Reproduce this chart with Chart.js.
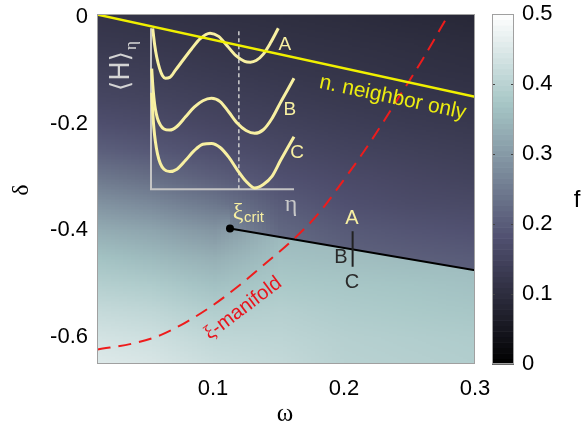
<!DOCTYPE html>
<html>
<head>
<meta charset="utf-8">
<script src="https://cdn.jsdelivr.net/npm/chart.js@4.4.1/dist/chart.umd.min.js"></script>
<style>
    html, body { margin: 0; padding: 0; background: #fff; }
    #grafico { display: block; }
</style>
</head>
<body>
<canvas id="grafico" width="583" height="433"></canvas>
<script>
// Ejes principales
const omegaTicks = [0.1, 0.2, 0.3];
const deltaTicks = [0, -0.2, -0.4, -0.6];
const fTicks = [0, 0.1, 0.2, 0.3, 0.4, 0.5];

// Malla del campo f(omega, delta)
const gridOmega = [0, 0.05, 0.1, 0.15, 0.2, 0.25, 0.3];
const gridDelta = [0, -0.05, -0.1, -0.15, -0.2, -0.25, -0.3, -0.35, -0.4, -0.45, -0.5, -0.55, -0.6, -0.65];
// campo por encima de la linea negra
const fUpper = [
    [0.120, 0.115, 0.110, 0.105, 0.100, 0.095, 0.090],
    [0.130, 0.125, 0.120, 0.115, 0.110, 0.105, 0.100],
    [0.145, 0.138, 0.130, 0.124, 0.118, 0.113, 0.108],
    [0.160, 0.152, 0.143, 0.135, 0.128, 0.122, 0.117],
    [0.180, 0.170, 0.158, 0.148, 0.140, 0.133, 0.127],
    [0.210, 0.195, 0.178, 0.163, 0.153, 0.145, 0.138],
    [0.250, 0.230, 0.205, 0.180, 0.167, 0.158, 0.150],
    [0.295, 0.275, 0.245, 0.200, 0.180, 0.170, 0.165],
    [0.335, 0.320, 0.295, 0.220, 0.198, 0.188, 0.182],
    [0.370, 0.355, 0.335, 0.235, 0.212, 0.205, 0.200],
    [0.395, 0.385, 0.365, 0.250, 0.225, 0.215, 0.210],
    [0.420, 0.410, 0.390, 0.260, 0.240, 0.228, 0.220],
    [0.440, 0.430, 0.410, 0.270, 0.250, 0.240, 0.230],
    [0.455, 0.445, 0.425, 0.280, 0.260, 0.250, 0.240]
];
// campo por debajo de la linea negra
const fLower = [
    [0.120, 0.115, 0.110, 0.105, 0.100, 0.095, 0.090],
    [0.130, 0.125, 0.120, 0.115, 0.110, 0.105, 0.100],
    [0.145, 0.138, 0.130, 0.124, 0.118, 0.113, 0.108],
    [0.160, 0.152, 0.143, 0.135, 0.128, 0.122, 0.117],
    [0.180, 0.170, 0.158, 0.148, 0.140, 0.133, 0.127],
    [0.210, 0.195, 0.178, 0.163, 0.153, 0.145, 0.138],
    [0.250, 0.230, 0.205, 0.180, 0.167, 0.158, 0.150],
    [0.295, 0.275, 0.245, 0.200, 0.180, 0.170, 0.165],
    [0.335, 0.320, 0.295, 0.350, 0.350, 0.350, 0.350],
    [0.370, 0.355, 0.335, 0.365, 0.360, 0.355, 0.355],
    [0.395, 0.385, 0.365, 0.380, 0.375, 0.370, 0.365],
    [0.420, 0.410, 0.390, 0.395, 0.385, 0.380, 0.375],
    [0.440, 0.430, 0.410, 0.405, 0.395, 0.390, 0.385],
    [0.455, 0.445, 0.425, 0.415, 0.400, 0.395, 0.390]
];

// Lineas
const nnOmega = [0.0115, 0.3];
const nnDelta = [0.004, -0.15];
const xiOmega = [0.012, 0.04, 0.06, 0.08, 0.10, 0.12, 0.14, 0.16, 0.18, 0.20, 0.22, 0.24, 0.26, 0.28];
const xiDelta = [-0.623, -0.611, -0.596, -0.571, -0.540, -0.503, -0.462, -0.420, -0.370, -0.305, -0.235, -0.158, -0.080, 0.005];
const critOmega = [0.113, 0.3];
const critDelta = [-0.3966, -0.4746];
const abcOmega = [0.2066, 0.2066];
const abcDelta = [-0.4015, -0.468];

// Recuadro: curvas <H>_eta
const etaA = [0.012, 0.025, 0.04, 0.06, 0.08, 0.1, 0.13, 0.17, 0.22, 0.28, 0.34, 0.41, 0.47, 0.53, 0.59, 0.65, 0.69, 0.73, 0.78, 0.83, 0.884];
const hA = [1.0, 0.9, 0.82, 0.75, 0.705, 0.69, 0.695, 0.74, 0.8, 0.87, 0.935, 0.97, 0.95, 0.89, 0.83, 0.795, 0.79, 0.8, 0.84, 0.91, 1.0];
const etaBC = [0.005, 0.012, 0.02, 0.03, 0.045, 0.065, 0.09, 0.13, 0.18, 0.24, 0.3, 0.36, 0.42, 0.48, 0.54, 0.6, 0.66, 0.72, 0.78, 0.84, 0.9, 0.95, 0.993];
const hB = [0.75, 0.65, 0.57, 0.5, 0.44, 0.4, 0.375, 0.368, 0.39, 0.45, 0.51, 0.55, 0.565, 0.545, 0.48, 0.41, 0.365, 0.348, 0.37, 0.44, 0.54, 0.62, 0.69];
const hC = [0.6, 0.48, 0.38, 0.3, 0.22, 0.16, 0.125, 0.11, 0.125, 0.18, 0.24, 0.28, 0.285, 0.26, 0.2, 0.12, 0.05, 0.008, 0.03, 0.08, 0.18, 0.26, 0.327];
const insetAxisEta = [0, 0, 0.993];
const insetAxisH = [1.0, 0, 0];
const etaCrit = [0.61, 0.61];
const hCrit = [0, 1.0];

const SANS = '"Liberation Sans", Arial, sans-serif';
const SERIF = '"Liberation Serif", "DejaVu Serif", serif';
const CREMA = '#f8f0a2';

function pts(xs, ys) {
    return xs.map((x, i) => ({ x: x, y: ys[i] }));
}

// mapa de color "bone"
const boneR = [[0, 0], [0.746, 0.653], [1, 1]];
const boneG = [[0, 0], [0.365, 0.319], [0.746, 0.778], [1, 1]];
const boneB = [[0, 0], [0.365, 0.444], [1, 1]];

function tramo(tabla, t) {
    for (let i = 1; i < tabla.length; i++) {
        if (t <= tabla[i][0]) {
            const a = tabla[i - 1], b = tabla[i];
            return a[1] + (b[1] - a[1]) * (t - a[0]) / (b[0] - a[0]);
        }
    }
    return tabla[tabla.length - 1][1];
}

function bone(t) {
    t = Math.max(0, Math.min(1, t));
    return [tramo(boneR, t), tramo(boneG, t), tramo(boneB, t)].map(v => Math.round(v * 255));
}

function pintarCampo(ctx, chart, valores) {
    const xs = chart.scales.x, ys = chart.scales.y;
    const nc = gridOmega.length, nr = gridDelta.length;
    const off = document.createElement('canvas');
    off.width = nc;
    off.height = nr;
    const octx = off.getContext('2d');
    const img = octx.createImageData(nc, nr);
    for (let r = 0; r < nr; r++) {
        for (let c = 0; c < nc; c++) {
            const col = bone(valores[r][c] / 0.5);
            const k = (r * nc + c) * 4;
            img.data[k] = col[0];
            img.data[k + 1] = col[1];
            img.data[k + 2] = col[2];
            img.data[k + 3] = 255;
        }
    }
    octx.putImageData(img, 0, 0);
    const x0 = xs.getPixelForValue(gridOmega[0]);
    const x1 = xs.getPixelForValue(gridOmega[nc - 1]);
    const y0 = ys.getPixelForValue(gridDelta[0]);
    const y1 = ys.getPixelForValue(gridDelta[nr - 1]);
    const dx = (x1 - x0) / (nc - 1), dy = (y1 - y0) / (nr - 1);
    ctx.imageSmoothingEnabled = true;
    ctx.drawImage(off, x0 - dx / 2, y0 - dy / 2, dx * nc, dy * nr);
}

const pluginCampo = {
    id: 'campo',
    beforeDatasetsDraw(chart) {
        const ctx = chart.ctx;
        const area = chart.chartArea;
        const xs = chart.scales.x, ys = chart.scales.y;
        ctx.save();
        ctx.beginPath();
        ctx.rect(area.left, area.top, area.right - area.left, area.bottom - area.top);
        ctx.clip();
        pintarCampo(ctx, chart, fLower);
        // zona superior, limitada por la linea negra
        ctx.beginPath();
        const xa = xs.getPixelForValue(critOmega[0]);
        ctx.moveTo(xa, ys.getPixelForValue(critDelta[0]));
        ctx.lineTo(xs.getPixelForValue(critOmega[1]), ys.getPixelForValue(critDelta[1]));
        ctx.lineTo(area.right + 5, ys.getPixelForValue(critDelta[1]));
        ctx.lineTo(area.right + 5, area.top - 5);
        ctx.lineTo(xa, area.top - 5);
        ctx.closePath();
        ctx.clip();
        pintarCampo(ctx, chart, fUpper);
        ctx.restore();
    },
    afterDatasetsDraw(chart) {
        const ctx = chart.ctx;
        const area = chart.chartArea;
        const fs = chart.scales.f;
        ctx.save();
        // marco
        ctx.strokeStyle = '#a0a0a0';
        ctx.lineWidth = 1;
        ctx.strokeRect(area.left + 0.5, area.top + 0.5, area.right - area.left - 1, area.bottom - area.top - 1);

        // barra de color
        const bx = area.right + 17, bw = 22;
        const n = 64;
        for (let i = 0; i < n; i++) {
            const v0 = 0.5 * i / n, v1 = 0.5 * (i + 1) / n;
            const c = bone((i + 0.5) / n);
            ctx.fillStyle = `rgb(${c[0]},${c[1]},${c[2]})`;
            const ya = fs.getPixelForValue(v0), yb = fs.getPixelForValue(v1);
            ctx.fillRect(bx, yb, bw, ya - yb + 0.6);
        }
        ctx.strokeStyle = '#444';
        ctx.lineWidth = 1;
        fTicks.slice(1, -1).forEach(v => {
            const y = Math.round(fs.getPixelForValue(v)) + 0.5;
            ctx.beginPath();
            ctx.moveTo(bx, y); ctx.lineTo(bx + 3, y);
            ctx.moveTo(bx + bw, y); ctx.lineTo(bx + bw - 3, y);
            ctx.stroke();
        });
        ctx.strokeStyle = '#a0a0a0';
        ctx.strokeRect(bx + 0.5, fs.getPixelForValue(0.5) + 0.5, bw - 1, fs.getPixelForValue(0) - fs.getPixelForValue(0.5) - 1);
        ctx.restore();
    },
    afterDraw(chart) {
        const ctx = chart.ctx;
        const xs = chart.scales.x, ys = chart.scales.y;
        const xi = chart.scales.xi, yi = chart.scales.yi;
        const P = (w, d) => [xs.getPixelForValue(w), ys.getPixelForValue(d)];
        const Q = (e, h) => [xi.getPixelForValue(e), yi.getPixelForValue(h)];
        ctx.save();
        ctx.textAlign = 'center';
        ctx.textBaseline = 'middle';

        function texto(str, pos, font, color, ang) {
            ctx.save();
            ctx.translate(pos[0], pos[1]);
            if (ang) ctx.rotate(ang * Math.PI / 180);
            ctx.font = font;
            ctx.fillStyle = color;
            ctx.fillText(str, 0, 0);
            ctx.restore();
        }

        // titulos de ejes
        texto('δ', [22, 190], '24px ' + SERIF, '#000', -90);
        texto('ω', [285, 414], '25px ' + SERIF, '#000', 0);
        texto('f', [577, 200], '24px ' + SANS, '#000', 0);

        // anotaciones
        texto('n. neighbor only', P(0.2372, -0.1517), '21px ' + SANS, '#ecec10', 12);

        // xi-manifold
        ctx.save();
        const pm = P(0.123, -0.546);
        ctx.translate(pm[0], pm[1]);
        ctx.rotate(-37 * Math.PI / 180);
        ctx.fillStyle = '#e8141c';
        ctx.font = '20px ' + SANS;
        const wResto = ctx.measureText('-manifold').width;
        ctx.font = '20px ' + SERIF;
        const wXi = ctx.measureText('ξ').width;
        const x0 = -(wResto + wXi) / 2;
        ctx.textAlign = 'left';
        ctx.fillText('ξ', x0, 0);
        ctx.font = '20px ' + SANS;
        ctx.fillText('-manifold', x0 + wXi, 0);
        ctx.restore();

        texto('A', P(0.2061, -0.377), '20px ' + SANS, CREMA, 0);
        texto('B', P(0.1977, -0.451), '20px ' + SANS, '#2a2a2a', 0);
        texto('C', P(0.2061, -0.498), '20px ' + SANS, '#2a2a2a', 0);

        // recuadro
        texto('A', Q(0.93, 0.896), '19px ' + SANS, CREMA, 0);
        texto('B', Q(0.965, 0.493), '19px ' + SANS, CREMA, 0);
        texto('C', Q(1.014, 0.225), '19px ' + SANS, CREMA, 0);
        texto('η', Q(0.972, -0.098), '24px ' + SERIF, '#c8c8c8', 0);

        // xi_crit
        const pc = Q(0.604, -0.148);
        texto('ξ', pc, '24px ' + SERIF, CREMA, 0);
        ctx.save();
        ctx.font = '15px ' + SANS;
        ctx.fillStyle = CREMA;
        ctx.textAlign = 'left';
        ctx.fillText('crit', pc[0] + 6, pc[1] + 5);
        ctx.restore();

        // <H>_eta
        ctx.save();
        const ph = Q(-0.2, 0.735);
        ctx.translate(ph[0], ph[1]);
        ctx.rotate(-Math.PI / 2);
        ctx.fillStyle = '#d4d4d4';
        ctx.font = '26px "DejaVu Sans", sans-serif';
        const wH = ctx.measureText('⟨H⟩').width;
        ctx.fillText('⟨H⟩', 0, 0);
        ctx.font = '17px ' + SERIF;
        ctx.textAlign = 'left';
        ctx.fillText('η', wH / 2 + 1, 9);
        ctx.restore();

        ctx.restore();
    }
};

function linea(xs, ys, color, ancho, extra) {
    return Object.assign({
        data: pts(xs, ys),
        showLine: true,
        borderColor: color,
        backgroundColor: color,
        borderWidth: ancho,
        pointRadius: 0,
        fill: false
    }, extra || {});
}

const insetScales = { xAxisID: 'xi', yAxisID: 'yi' };

const datasets = [
    linea(insetAxisEta, insetAxisH, '#c4c4c4', 2, Object.assign({ order: 9 }, insetScales)),
    linea(etaCrit, hCrit, '#cfcfcf', 1.5, Object.assign({ order: 8, borderDash: [4, 3] }, insetScales)),
    linea(etaA, hA, CREMA, 3, Object.assign({ order: 7, cubicInterpolationMode: 'monotone' }, insetScales)),
    linea(etaBC, hB, CREMA, 3, Object.assign({ order: 7, cubicInterpolationMode: 'monotone' }, insetScales)),
    linea(etaBC, hC, CREMA, 3, Object.assign({ order: 7, cubicInterpolationMode: 'monotone' }, insetScales)),
    linea(critOmega, critDelta, '#000', 2, { order: 4, pointRadius: [3, 0], pointBackgroundColor: '#000' }),
    linea(abcOmega, abcDelta, '#222', 2, { order: 3 }),
    linea(xiOmega, xiDelta, '#ee1c1c', 2, { order: 2, borderDash: [13, 8], cubicInterpolationMode: 'monotone' }),
    linea(nnOmega, nnDelta, '#f0f000', 2.5, { order: 1 })
];

const fuenteTicks = { family: SANS, size: 22 };

// quita el relleno extra que Chart.js deja para las etiquetas extremas
function sinRelleno(s) {
    s.paddingTop = 0;
    s.paddingBottom = 0;
    s.paddingLeft = 0;
    s.paddingRight = 0;
}

new Chart(document.getElementById('grafico'), {
    type: 'scatter',
    data: { datasets: datasets },
    options: {
        responsive: false,
        animation: false,
        layout: { padding: { top: 14, left: 0, right: 0, bottom: 0 } },
        plugins: {
            legend: { display: false },
            tooltip: { enabled: false }
        },
        scales: {
            x: {
                type: 'linear',
                min: 0.0115,
                max: 0.3,
                grid: { display: false, drawTicks: false },
                border: { display: false },
                afterBuildTicks: s => { s.ticks = omegaTicks.map(v => ({ value: v })); },
                afterFit: s => { s.height = 69; sinRelleno(s); },
                ticks: { font: fuenteTicks, color: '#000', padding: 12, maxRotation: 0, autoSkip: false, callback: v => String(v) }
            },
            y: {
                type: 'linear',
                min: -0.65,
                max: 0.005,
                grid: { display: false, drawTicks: false },
                border: { display: false },
                afterBuildTicks: s => { s.ticks = deltaTicks.map(v => ({ value: v })); },
                afterFit: s => { s.width = 97; sinRelleno(s); },
                ticks: { font: fuenteTicks, color: '#000', padding: 9, autoSkip: false, callback: v => String(v) }
            },
            f: {
                type: 'linear',
                axis: 'y',
                position: 'right',
                min: 0,
                max: 0.5,
                grid: { display: false, drawTicks: false },
                border: { display: false },
                afterBuildTicks: s => { s.ticks = fTicks.map(v => ({ value: v })); },
                afterFit: s => { s.width = 108; sinRelleno(s); },
                ticks: { font: fuenteTicks, color: '#000', padding: 47, autoSkip: false, callback: v => String(v) }
            },
            xi: { type: 'linear', axis: 'x', display: false, min: -0.375, max: 2.25 },
            yi: { type: 'linear', axis: 'y', display: false, min: -1.085, max: 1.089 }
        }
    },
    plugins: [pluginCampo]
});
</script>
</body>
</html>
